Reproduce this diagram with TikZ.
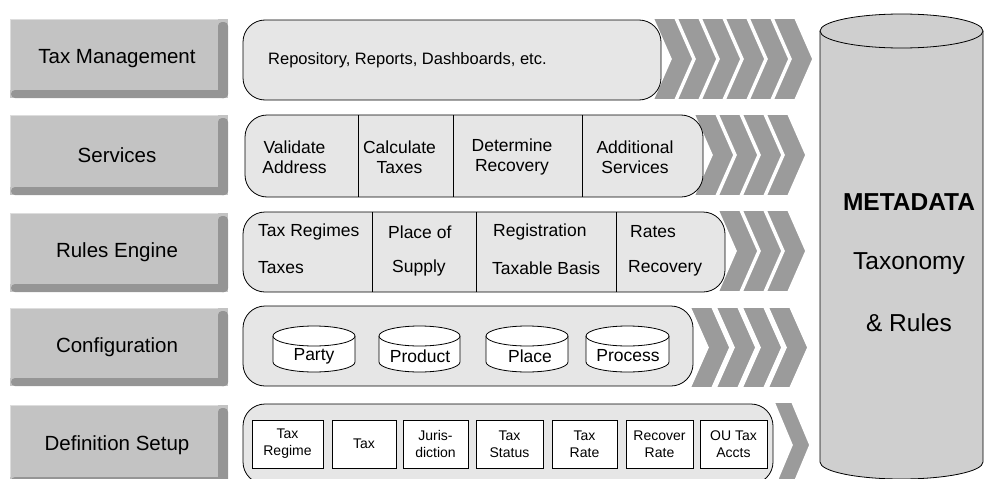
\documentclass[tikz,border=0pt]{standalone}
\usepackage{fontspec}
\setmainfont{Liberation Sans}
\definecolor{panelgray}{HTML}{E6E6E6}
\definecolor{btnface}{HTML}{C3C3C3}
\definecolor{btndark}{HTML}{959595}
\definecolor{btnlight}{HTML}{DDDDDD}
\definecolor{chevgray}{HTML}{9B9B9B}
\definecolor{cylgray}{HTML}{CFCFCF}
\tikzset{
  panel/.style={draw=black, fill=panelgray, line width=0.8pt, rounded corners=22pt},
  chev/.style={fill=chevgray, draw=white, line width=1.6pt, line join=miter},
  divider/.style={draw=black, line width=0.8pt},
  btntext/.style={font=\fontsize{20.5}{24}\selectfont, inner sep=0pt},
  paneltext/.style={font=\fontsize{16.5}{19}\selectfont, inner sep=0pt},
  coltext/.style={font=\fontsize{17.5}{19.5}\selectfont, align=center, inner sep=0pt},
  ruletext/.style={font=\fontsize{17.5}{19.5}\selectfont, anchor=west, inner sep=0pt},
  cyltext/.style={font=\fontsize{17.5}{19.5}\selectfont, inner sep=0pt},
  defbox/.style={draw=black, fill=white, line width=0.8pt, inner sep=0pt, align=center,
    minimum height=48pt, font=\fontsize{14}{17}\selectfont},
  metatext/.style={font=\fontsize{24.5}{28}\selectfont, inner sep=0pt},
}
\newcommand\chevshape[3]{%
  \path[chev] (#1,#2) -- ({#1+22},#2) -- ({#1+40},{(#2+#3)/2}) -- ({#1+22},#3)
    -- (#1,#3) -- ({#1+18},{(#2+#3)/2}) -- cycle;}
\newcommand\bevelbtn[4]{%
  \fill[btnface] (10,#2) rectangle (228,#3);
  \fill[btndark, rounded corners=4pt] (218,{#2+3}) rectangle (228,#3);
  \fill[btndark, rounded corners=4pt] (11,{#3-8}) rectangle (228,#3);
  \draw[btnlight, line width=1pt] (10.5,{#3-8}) -- (10.5,{#2+0.5}) -- (218,{#2+0.5});
  \node[btntext] (#1) at (117,{(#2+#3)/2}) {#4};}
% L, R, ytop-centre, ybottom-centre, ry, fill
\newcommand\mycyl[6]{%
  \fill[#6] (#1,#3) -- (#1,#4) arc[start angle=180, end angle=0, x radius={(#2-#1)/2}, y radius=#5] -- (#2,#3) -- cycle;
  \draw[line width=0.8pt] (#1,#3) -- (#1,#4) arc[start angle=180, end angle=0, x radius={(#2-#1)/2}, y radius=#5] -- (#2,#3);
  \draw[fill=#6, line width=0.8pt] ({(#1+#2)/2},#3) ellipse[x radius={(#2-#1)/2}, y radius=#5];}
\begin{document}
\begin{tikzpicture}[x=1pt, y=-1pt]
\useasboundingbox (0,0) rectangle (985,479);

% ---------- buttons ----------
\bevelbtn{b1}{19}{98}{Tax Management}
\bevelbtn{b2}{115}{195}{Services}
\bevelbtn{b3}{213}{292}{Rules Engine}
\bevelbtn{b4}{308}{386}{Configuration}
\bevelbtn{b5}{405}{485}{Definition Setup}

% ---------- chevrons ----------
\foreach \x in {653,677,701,725,749,773} {\chevshape{\x}{18}{100}}
\foreach \x in {694,718,742,766} {\chevshape{\x}{114}{196}}
\foreach \x in {718,742,766} {\chevshape{\x}{210}{292}}
\foreach \x in {690,716,742,768} {\chevshape{\x}{307}{388}}
\path[chev] (774,402) -- (792,402) -- (810,445) -- (792,488) -- (774,488) -- (792,445) -- cycle;

% ---------- row 1: Tax Management ----------
\draw[panel] (243,20) rectangle (661,100);
\node[paneltext, anchor=west] (t1) at (268,60) {Repository, Reports, Dashboards, etc.};

% ---------- row 2: Services ----------
\draw[panel] (245,115) rectangle (703,197);
\draw[divider] (358,115) -- (358,197);
\draw[divider] (453,115) -- (453,197);
\draw[divider] (582,115) -- (582,197);
\node[coltext] (s1) at (294.5,157) {Validate\\Address};
\node[coltext] (s2) at (399.5,157) {Calculate\\Taxes};
\node[coltext] (s3) at (512,157) {Determine\\Recovery};
\node[coltext] (s4) at (635,157) {Additional\\Services};

% ---------- row 3: Rules Engine ----------
\draw[panel] (243,212) rectangle (725,292);
\draw[divider] (372,212) -- (372,292);
\draw[divider] (476,212) -- (476,292);
\draw[divider] (616,212) -- (616,292);
\node[ruletext] (r1a) at (258,232) {Tax Regimes};
\node[ruletext] (r1b) at (258,268) {Taxes};
\node[ruletext] (r2a) at (388,232) {Place of};
\node[ruletext] (r2b) at (392,268) {Supply};
\node[ruletext] (r3a) at (493,232) {Registration};
\node[ruletext] (r3b) at (492,268) {Taxable Basis};
\node[ruletext] (r4a) at (630,232) {Rates};
\node[ruletext] (r4b) at (628,268) {Recovery};

% ---------- row 4: Configuration ----------
\draw[panel] (243,306) rectangle (693,386);
\mycyl{273}{355}{336}{362}{10}{white}
\mycyl{379}{460}{336}{362}{10}{white}
\mycyl{486}{568}{336}{362}{10}{white}
\mycyl{586}{669}{336}{362}{10}{white}
\node[cyltext] (c1) at (314,356) {Party};
\node[cyltext] (c2) at (420,356) {Product};
\node[cyltext] (c3) at (530,356) {Place};
\node[cyltext] (c4) at (628,356) {Process};

% ---------- row 5: Definition Setup ----------
\draw[panel] (243,404) rectangle (773,484);
\node[defbox, minimum width=71pt] (d1) at (287.5,444) {Tax\\Regime};
\node[defbox, minimum width=64pt] (d2) at (364,444) {Tax};
\node[defbox, minimum width=65pt] (d3) at (435.5,444) {Juris-\\diction};
\node[defbox, minimum width=67pt] (d4) at (509.5,444) {Tax\\Status};
\node[defbox, minimum width=65pt] (d5) at (584.5,444) {Tax\\Rate};
\node[defbox, minimum width=67pt] (d6) at (659.5,444) {Recover\\Rate};
\node[defbox, minimum width=67pt] (d7) at (733.5,444) {OU Tax\\Accts};

% ---------- metadata cylinder ----------
\mycyl{820}{983}{31}{462}{17}{cylgray}
\node[metatext, font=\fontsize{24.5}{28}\selectfont\bfseries] (m1) at (909,202) {METADATA};
\node[metatext] (m2) at (909,264) {Taxonomy};
\node[metatext] (m3) at (909,323) {\& Rules};
\end{tikzpicture}
\end{document}
